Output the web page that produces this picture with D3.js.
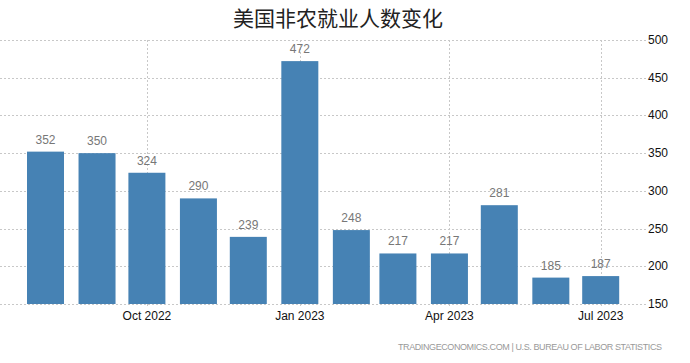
<!DOCTYPE html>
<html>
<head>
<meta charset="utf-8">
<script src="https://cdn.jsdelivr.net/npm/d3@7"></script>
<style>
  body { margin: 0; background: white; }
  text { font-family: "Liberation Sans", Arial, sans-serif; }
</style>
</head>
<body>
<div id="container"></div>
<script>
// data (thousands of jobs)
let months = ["2022-08", "2022-09", "2022-10", "2022-11", "2022-12", "2023-01",
              "2023-02", "2023-03", "2023-04", "2023-05", "2023-06", "2023-07"];
let payrolls = [352, 350, 324, 290, 239, 472, 248, 217, 217, 281, 185, 187];
let yTicks = [150, 200, 250, 300, 350, 400, 450, 500];
let xTickMonths = ["2022-10", "2023-01", "2023-04", "2023-07"];

let w = 690;
let h = 363;
let parseMonth = d3.timeParse("%Y-%m");
let formatTick = d3.timeFormat("%b %Y");

let data = months.map((m, i) => ({date: parseMonth(m), value: payrolls[i]}));

let svg = d3.select("#container")
  .append("svg")
  .attr("width", w)
  .attr("height", h);

let xScale = d3.scaleTime()
  .domain([parseMonth(months[0]), parseMonth(months[months.length - 1])])
  .range([45.5, 600.7]);
let yScale = d3.scaleLinear().domain([150, 500]).range([304, 40]);
let barW = 37;

// title
svg.append("text")
  .attr("x", 338)
  .attr("y", 26)
  .attr("text-anchor", "middle")
  .style("font-family", "'Noto Sans CJK SC', sans-serif")
  .style("font-size", "21px")
  .attr("fill", "#222")
  .text("美国非农就业人数变化");

// horizontal grid + right axis labels
let yGrid = svg.append("g").attr("class", "ygrid");
yGrid.selectAll("line").data(yTicks).enter().append("line")
  .attr("x1", 0)
  .attr("x2", 646)
  .attr("y1", d => Math.round(yScale(d)) + 0.5)
  .attr("y2", d => Math.round(yScale(d)) + 0.5)
  .attr("stroke", "#c8c8c8")
  .attr("stroke-dasharray", "2,2");
yGrid.selectAll("text").data(yTicks).enter().append("text")
  .attr("x", 648)
  .attr("y", d => yScale(d) + 4)
  .style("font-size", "12px")
  .attr("fill", "#111")
  .text(d => d);

// vertical grid at x ticks
let xTicks = xTickMonths.map(parseMonth);
let xGrid = svg.append("g").attr("class", "xgrid");
xGrid.selectAll("line").data(xTicks).enter().append("line")
  .attr("x1", d => Math.round(xScale(d)) + 0.5)
  .attr("x2", d => Math.round(xScale(d)) + 0.5)
  .attr("y1", 40)
  .attr("y2", 308)
  .attr("stroke", "#c8c8c8")
  .attr("stroke-dasharray", "2,2");
xGrid.selectAll("text").data(xTicks).enter().append("text")
  .attr("x", d => xScale(d))
  .attr("y", 320)
  .attr("text-anchor", "middle")
  .style("font-size", "12px")
  .attr("fill", "#111")
  .text(d => formatTick(d));

// bars
let bars = svg.append("g").attr("class", "bars");
bars.selectAll("rect").data(data).enter().append("rect")
  .attr("x", d => xScale(d.date) - barW / 2)
  .attr("y", d => yScale(d.value))
  .attr("width", barW)
  .attr("height", d => yScale(150) - yScale(d.value))
  .attr("fill", "#4682b4");

bars.selectAll("text").data(data).enter().append("text")
  .attr("x", d => xScale(d.date))
  .attr("y", d => yScale(d.value) - 8)
  .attr("text-anchor", "middle")
  .style("font-size", "12px")
  .attr("fill", "#777")
  .text(d => d.value);

// source line
svg.append("text")
  .attr("x", 662)
  .attr("y", 350)
  .attr("text-anchor", "end")
  .style("font-size", "9px")
  .attr("fill", "#999")
  .attr("textLength", 264)
  .text("TRADINGECONOMICS.COM  |  U.S. BUREAU OF LABOR STATISTICS");
</script>
</body>
</html>
